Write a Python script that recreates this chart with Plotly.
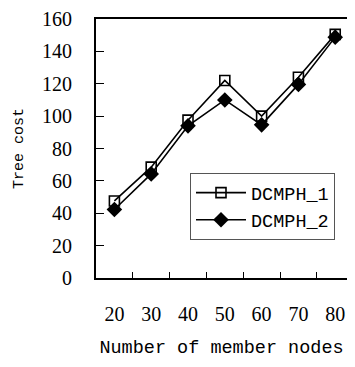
import plotly.graph_objects as go

categories = ["20", "30", "40", "50", "60", "70", "80"]
dcmph_1 = [47.6, 68.5, 97.5, 122, 100, 124, 150.5]
dcmph_2 = [42.3, 64.3, 94, 110, 94.6, 119.6, 148.8]
y_ticks = [0, 20, 40, 60, 80, 100, 120, 140, 160]

mono = "Liberation Mono"
serif = "Liberation Serif"

fig = go.Figure()
fig.add_trace(go.Scatter(
    x=categories, y=dcmph_1, name="DCMPH_1", mode="lines+markers",
    line=dict(color="black", width=1.6),
    marker=dict(symbol="square-open", size=10, color="black", line=dict(width=1.6)),
))
fig.add_trace(go.Scatter(
    x=categories, y=dcmph_2, name="DCMPH_2", mode="lines+markers",
    line=dict(color="black", width=1.6),
    marker=dict(symbol="diamond", size=12, color="black"),
))

fig.update_layout(
    width=339, height=351,
    margin=dict(l=88, r=0, t=5, b=77),
    paper_bgcolor="white", plot_bgcolor="white",
    showlegend=True,
    legend=dict(
        x=0.3745, y=0.405, xanchor="left", yanchor="top",
        bgcolor="white", bordercolor="#555555", borderwidth=1,
        font=dict(family=mono, size=18.5, color="black"),
        tracegroupgap=0, itemwidth=50,
    ),
    xaxis=dict(
        type="category", range=[-0.5, 6.32],
        showline=True, linecolor="black", linewidth=2, mirror=True,
        ticks="inside", tickson="boundaries", ticklen=6, tickwidth=1.2, tickcolor="black",
        showgrid=False, zeroline=False,
        tickfont=dict(family=serif, size=20, color="black"),
        ticklabelstandoff=17, ticklabeloverflow="allow",
        title=dict(text="Number of member nodes", font=dict(family=mono, size=18.5, color="black"), standoff=21),
    ),
    yaxis=dict(
        range=[0, 160], tickvals=y_ticks,
        showline=True, linecolor="black", linewidth=2, mirror=False,
        ticks="inside", ticklen=8, tickwidth=1.2, tickcolor="black",
        showgrid=False, zeroline=False,
        tickfont=dict(family=serif, size=20, color="black"),
        ticklabelstandoff=18, ticklabeloverflow="allow",
        title=dict(text="Tree cost", font=dict(family=mono, size=15, color="black"), standoff=15),
    ),
)

fig.write_html("out.html")
